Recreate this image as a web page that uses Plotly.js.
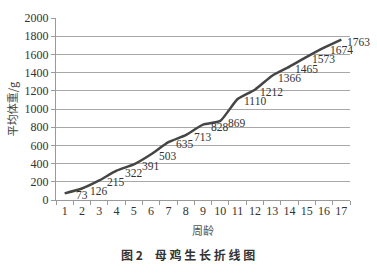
<!DOCTYPE html>
<html>
<head>
<meta charset="utf-8">
<script src="https://cdn.plot.ly/plotly-3.0.1.min.js"></script>
<style>
  html, body { margin: 0; padding: 0; background: #fff; }
  #chart { width: 377px; height: 274px; }
</style>
</head>
<body>
<div id="chart"></div>
<script>
// Average hen body weight by week of age
const weeks = [1, 2, 3, 4, 5, 6, 7, 8, 9, 10, 11, 12, 13, 14, 15, 16, 17];
const weights = [73, 126, 215, 322, 391, 503, 635, 713, 828, 869, 1110, 1212, 1366, 1465, 1573, 1674, 1763];
const yTicks = [0, 200, 400, 600, 800, 1000, 1200, 1400, 1600, 1800, 2000];

const serif = 'Liberation Serif, Times New Roman, serif';
const cjk = 'Noto Sans CJK SC, sans-serif';

const trace = {
  x: weeks,
  y: weights,
  type: 'scatter',
  mode: 'lines',
  line: { color: '#454545', width: 2.5, shape: 'spline', smoothing: 0.5 },
  hoverinfo: 'skip'
};

// Value labels sit just to the lower right of each point
const valueLabels = weeks.map((w, i) => ({
  x: w,
  y: weights[i],
  xref: 'x', yref: 'y',
  text: String(weights[i]),
  showarrow: false,
  xanchor: 'center', yanchor: 'middle',
  xshift: 17, yshift: -2,
  font: { family: serif, size: 11.5, color: '#333' }
}));

const layout = {
  width: 377,
  height: 274,
  margin: { l: 56, r: 27, t: 18, b: 74 },
  paper_bgcolor: '#fff',
  plot_bgcolor: '#fff',
  showlegend: false,
  xaxis: {
    range: [0.5, 17.5],
    tickvals: weeks,
    ticktext: weeks.map(String),
    ticks: '',
    tickfont: { family: serif, size: 12, color: '#333' },
    showgrid: false,
    zeroline: false,
    showline: true,
    linecolor: '#9a9a9a',
    linewidth: 1,
    minor: { tick0: 0.5, dtick: 1, ticks: 'outside', ticklen: 4, tickcolor: '#9a9a9a', showgrid: false },
    title: { text: '周龄', font: { family: cjk, size: 11, color: '#555' }, standoff: 9 },
    fixedrange: true
  },
  yaxis: {
    range: [0, 2000],
    tickvals: yTicks,
    ticktext: yTicks.map(String),
    ticks: 'outside',
    ticklen: 4,
    tickcolor: '#9a9a9a',
    tickfont: { family: serif, size: 12, color: '#333' },
    showgrid: true,
    gridcolor: '#a8a8a8',
    gridwidth: 1,
    zeroline: false,
    showline: true,
    linecolor: '#9a9a9a',
    linewidth: 1,
    title: { text: '平均体重/g', font: { family: cjk, size: 11, color: '#444' }, standoff: 4 },
    fixedrange: true
  },
  annotations: valueLabels.concat([{
    xref: 'paper', yref: 'paper',
    x: 0.45, y: -0.30,
    xanchor: 'center', yanchor: 'middle',
    showarrow: false,
    text: '<b>图 2　母 鸡 生 长 折 线 图</b>',
    font: { family: cjk, size: 12, color: '#333' }
  }])
};

Plotly.newPlot('chart', [trace], layout, { staticPlot: true, displayModeBar: false });
</script>
</body>
</html>
